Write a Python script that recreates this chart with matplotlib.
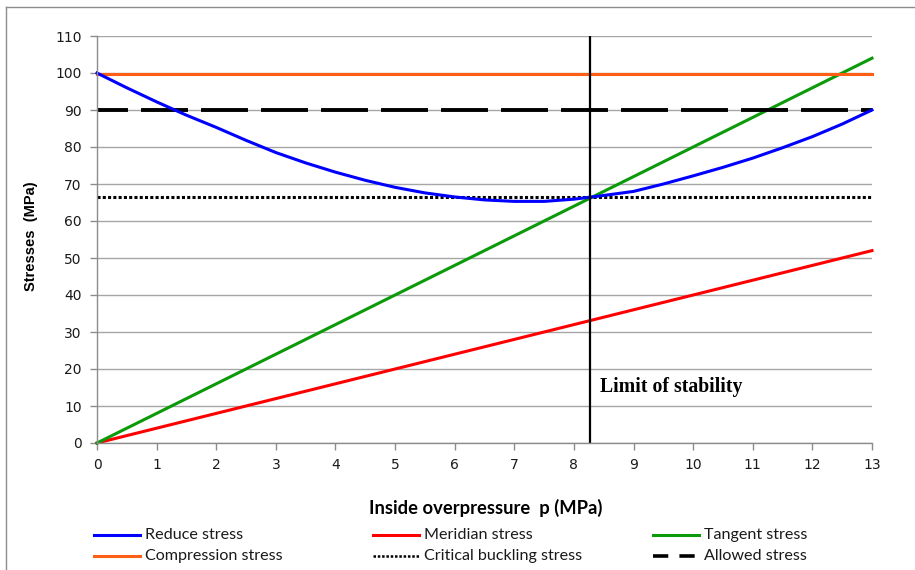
import matplotlib
matplotlib.use("Agg")
import matplotlib.pyplot as plt
from matplotlib.lines import Line2D

# ---- data ----
p_reduce = [0, 0.5, 1, 1.5, 2, 2.5, 3, 3.5, 4, 4.5, 5, 5.5, 6, 6.5, 7, 7.5, 8, 8.5,
            9, 9.5, 10, 10.5, 11, 11.5, 12, 12.5, 13]
reduce_stress = [100, 96, 92.2, 88.6, 85.3, 81.8, 78.5, 75.7, 73.2, 71, 69.1, 67.6, 66.5,
                 65.7, 65.3, 65.3, 65.9, 66.9, 68, 70, 72.2, 74.5, 77, 79.8, 82.8, 86.2, 90]
p_lin = [0, 13]
meridian_stress = [0, 52]
tangent_stress = [0, 104]
compression_stress = [99.6, 99.6]
critical_buckling = [66.6, 66.6]
allowed_stress = [90, 90]
limit_p = 8.27
x_ticks = list(range(0, 14))
y_ticks = list(range(0, 111, 10))
legend_labels = ['Reduce stress', 'Meridian stress', 'Tangent stress',
                 'Compression stress', 'Critical buckling stress', 'Allowed stress']

W, H = 915, 570
plt.rcParams['lines.scale_dashes'] = False
fig = plt.figure(figsize=(W/100, H/100), dpi=100)
ax = fig.add_axes([97/W, 1-443/H, (872-97)/W, (443-36)/H])

ax.set_xlim(0, 13)
ax.set_ylim(0, 110)
ax.set_xticks(x_ticks)
ax.set_yticks(y_ticks)
ax.grid(axis='y', color='#a6a6a6', linewidth=1.0)
ax.set_axisbelow(True)
for s in ['top', 'right']:
    ax.spines[s].set_visible(False)
for s in ['left', 'bottom']:
    ax.spines[s].set_color('#8c8c8c')
    ax.spines[s].set_linewidth(1.0)
ax.tick_params(axis='both', direction='out', length=5, color='#8c8c8c', width=1,
               labelsize=10, labelcolor='#1a1a1a', pad=6)
for lab in ax.get_xticklabels() + ax.get_yticklabels():
    lab.set_family('DejaVu Sans')

lw = 2.2
styles = {
    'Reduce stress': dict(color='#0000ff', lw=lw, linestyle='-'),
    'Meridian stress': dict(color='#ff0000', lw=lw, linestyle='-'),
    'Tangent stress': dict(color='#0a9a0a', lw=lw, linestyle='-'),
    'Compression stress': dict(color='#ff5f15', lw=lw, linestyle='-'),
    'Critical buckling stress': dict(color='black', lw=2.2, linestyle=(0, (2.2, 1.6))),
    'Allowed stress': dict(color='black', lw=2.8, linestyle=(11.5, (33.8, 9.4))),
}
ax.plot(p_lin, meridian_stress, clip_on=False, **styles['Meridian stress'])
ax.plot(p_lin, tangent_stress, clip_on=False, **styles['Tangent stress'])
ax.plot(p_lin, compression_stress, clip_on=False, **styles['Compression stress'])
ax.plot(p_lin, critical_buckling, **styles['Critical buckling stress'])
ax.plot(p_lin, allowed_stress, clip_on=False, **styles['Allowed stress'])
ax.plot(p_reduce, reduce_stress, clip_on=False, **styles['Reduce stress'])
ax.plot([limit_p, limit_p], [0, 110], color='black', lw=1.6)
ax.text(limit_p + 0.17, 15.2, 'Limit of stability', family='Liberation Serif',
        fontweight='bold', fontsize=14.2, va='center', ha='left')

fig.text(486/W, 1-508/H, 'Inside overpressure  p (MPa)', ha='center', va='center',
         family='Lato', fontweight='bold', fontsize=13.2)
fig.text(31/W, 1-236/H, 'Stresses  (MPa)', ha='center', va='center', rotation=90,
         family='Liberation Sans', fontweight='bold', fontsize=10.5)

# legend (3 columns, 2 rows) placed like the reference
col_x = [94, 373, 653]
row_y = [535, 556]
leg_handle_style = {
    'Critical buckling stress': dict(color='black', lw=1.8, linestyle=(0, (1.8, 1.3))),
    'Allowed stress': dict(color='black', lw=2.6, linestyle=(0, (11, 8))),
}
for i, name in enumerate(legend_labels):
    c, r = i % 3, i // 3
    x0 = col_x[c]
    y = 1 - row_y[r]/H
    st = dict(styles[name])
    st['lw'] = 2.2
    st.update(leg_handle_style.get(name, {}))
    fig.add_artist(Line2D([x0/W, (x0+46)/W], [y, y], transform=fig.transFigure, **st))
    fig.text((x0+51)/W, y, name, ha='left', va='center', family='Lato',
             fontsize=11.6, color='#1a1a1a')

# outer chart frame (top and left edges visible)
fig.add_artist(Line2D([6/W, 1.0], [1-7/H, 1-7/H], transform=fig.transFigure,
                      color='#8c8c8c', lw=1.0))
fig.add_artist(Line2D([6/W, 6/W], [0, 1-7/H], transform=fig.transFigure,
                      color='#8c8c8c', lw=1.0))

fig.savefig('out.png', dpi=100)
